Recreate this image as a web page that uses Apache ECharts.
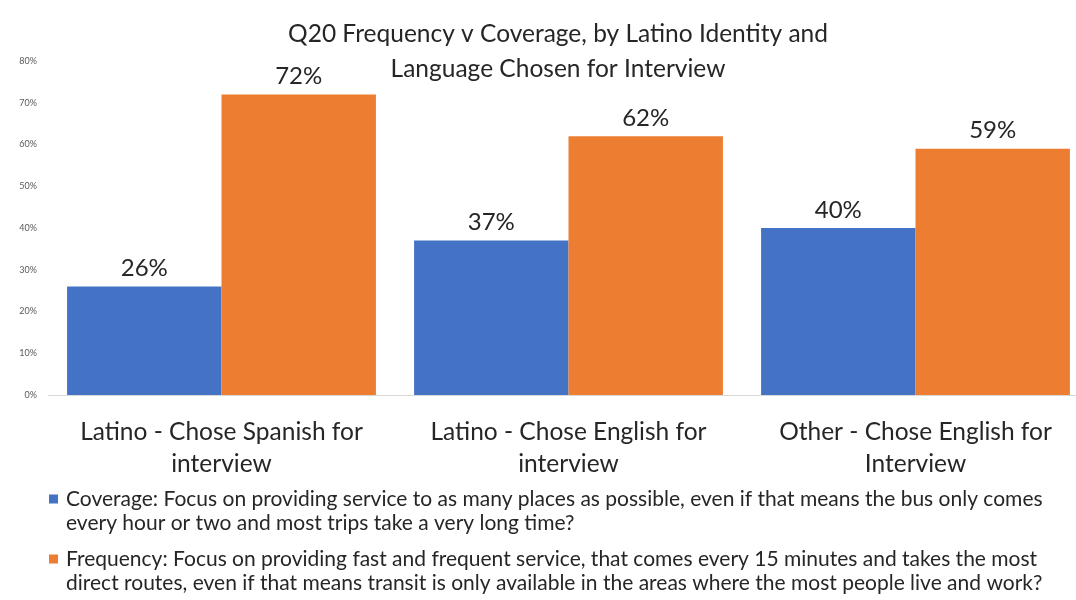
<!DOCTYPE html>
<html>
<head>
<meta charset="utf-8">
<script src="https://cdn.jsdelivr.net/npm/echarts@6/dist/echarts.min.js"></script>
<style>
  html, body { margin: 0; padding: 0; background: #fff; }
  #chart { width: 1076px; height: 600px; }
</style>
</head>
<body>
<div id="chart"></div>
<script>
// Survey groups along the x axis
const categories = [
  'Latino - Chose Spanish for\ninterview',
  'Latino - Chose English for\ninterview',
  'Other - Chose English for\nInterview'
];
// Share of respondents (%) preferring each option
const coverageValues = [26, 37, 40];
const frequencyValues = [72, 62, 59];
const yTicks = [0, 10, 20, 30, 40, 50, 60, 70, 80];

const coverageName = 'Coverage: Focus on providing service to as many places as possible, even if that means the bus only comes\nevery hour or two and most trips take a very long time?';
const frequencyName = 'Frequency: Focus on providing fast and frequent service, that comes every 15 minutes and takes the most\ndirect routes, even if that means transit is only available in the areas where the most people live and work?';

const FONT = 'Lato, "Open Sans", sans-serif';

// Square marker drawn at the top of a tall icon box, so it lines up
// with the first line of each two-line legend entry
const topSquareIcon = 'path://M0,0H9V9H0Z M0,33H0.01V33.01H0Z';

const legendText = {
  fontFamily: FONT,
  fontSize: 21,
  color: '#262626',
  lineHeight: 24,
  padding: [0, 0, 0, 3]
};

const barLabel = {
  show: true,
  position: 'top',
  distance: 6,
  formatter: '{c}%',
  fontFamily: FONT,
  fontSize: 24,
  color: '#262626'
};

const legendBase = {
  left: 44,
  itemWidth: 9,
  itemHeight: 33,
  itemGap: 0,
  icon: topSquareIcon,
  textStyle: legendText
};

const chart = echarts.init(document.getElementById('chart'));
chart.setOption({
  animation: false,
  title: {
    text: 'Q20 Frequency v Coverage, by Latino Identity and\nLanguage Chosen for Interview',
    left: 553,
    textAlign: 'center',
    top: 12,
    textStyle: {
      fontFamily: FONT,
      fontSize: 24.5,
      fontWeight: 'normal',
      color: '#262626',
      lineHeight: 35
    }
  },
  grid: { left: 48, width: 1041, top: 61, bottom: 205, outerBoundsMode: 'none', containLabel: false },
  xAxis: {
    type: 'category',
    data: categories,
    axisLine: { lineStyle: { color: '#d9d9d9' } },
    axisTick: { show: false },
    axisLabel: {
      interval: 0,
      hideOverlap: false,
      fontFamily: FONT,
      fontSize: 24.5,
      color: '#262626',
      lineHeight: 32,
      margin: 21
    }
  },
  yAxis: {
    type: 'value',
    min: yTicks[0],
    max: yTicks[yTicks.length - 1],
    interval: yTicks[1] - yTicks[0],
    splitLine: { show: false },
    axisLine: { show: false },
    axisTick: { show: false },
    axisLabel: {
      formatter: '{value}%',
      fontFamily: FONT,
      fontSize: 9,
      color: '#595959',
      margin: 11
    }
  },
  legend: [
    Object.assign({}, legendBase, { data: [coverageName], top: 482 }),
    Object.assign({}, legendBase, { data: [frequencyName], top: 542 })
  ],
  series: [
    {
      name: coverageName,
      type: 'bar',
      data: coverageValues,
      barGap: '0%',
      barCategoryGap: '11%',
      itemStyle: { color: '#4472C4' },
      label: barLabel
    },
    {
      name: frequencyName,
      type: 'bar',
      data: frequencyValues,
      itemStyle: { color: '#ED7D31' },
      label: barLabel
    }
  ]
});
</script>
</body>
</html>
